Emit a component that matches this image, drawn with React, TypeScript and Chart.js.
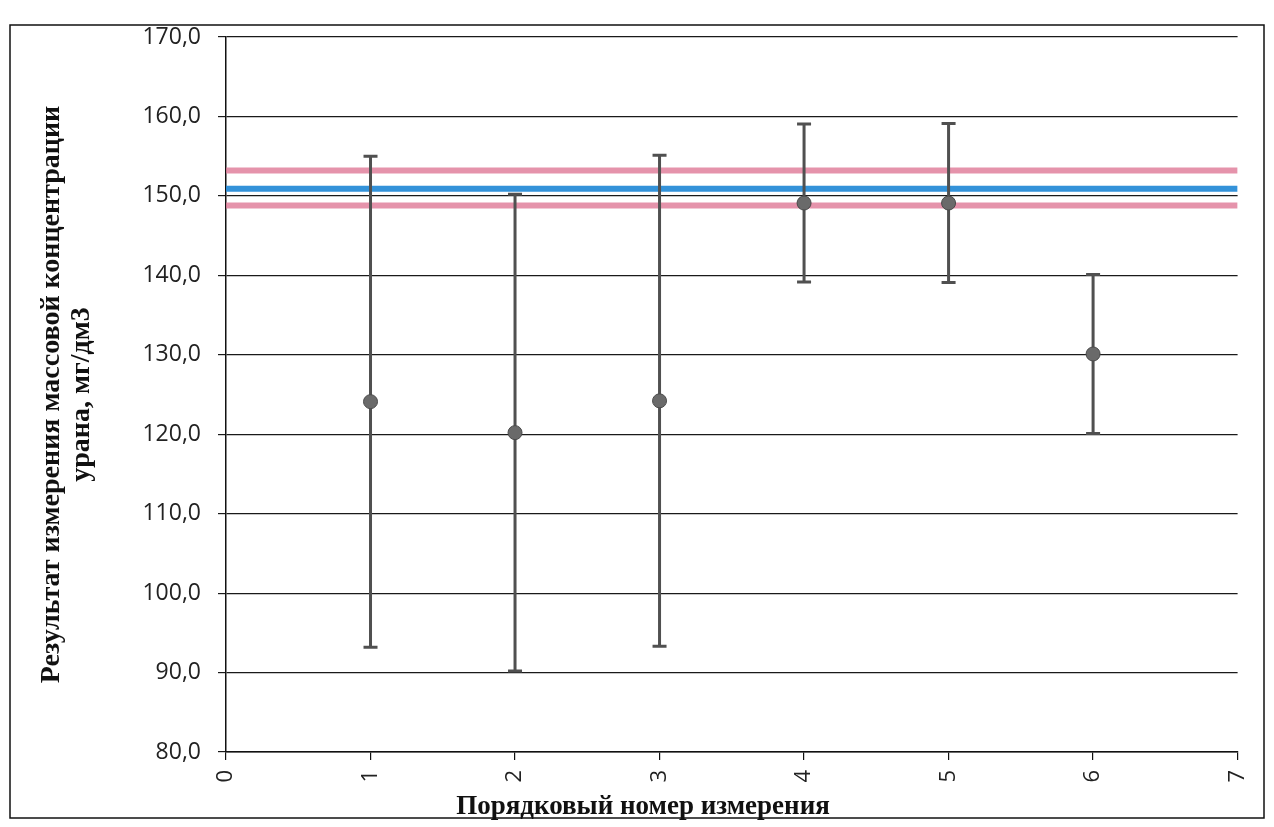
import React, { useEffect, useRef } from "react";
import { Chart, registerables } from "chart.js";

Chart.register(...registerables);

const measurementNumbers = [1, 2, 3, 4, 5, 6];
const measuredValues = [124.1, 120.2, 124.2, 149.1, 149.1, 130.1];
const errorHalfWidths = [30.9, 30.0, 30.9, 9.95, 10.0, 10.0];
const referenceValue = 150.9;
const referenceUpper = 153.2;
const referenceLower = 148.8;
const xRange = [0, 7];
const yTicksRange = [80, 170];
const yTitleLines = ["Результат измерения массовой концентрации", "урана, мг/дм3"];
const xTitle = "Порядковый номер измерения";

const W = 1274;
const H = 827;

export default function App() {
  const ref = useRef<HTMLCanvasElement | null>(null);

  useEffect(() => {
    const canvas = ref.current;
    if (!canvas) return;

    const errorBars = {
      id: "errorBars",
      beforeDatasetDraw(chart: any, args: any) {
        if (args.index !== 0) return;
        const { ctx } = chart;
        const xs = chart.scales.x;
        const ys = chart.scales.y;
        ctx.save();
        ctx.strokeStyle = "#505050";
        ctx.lineWidth = 3;
        measurementNumbers.forEach((n, i) => {
          const px = xs.getPixelForValue(n);
          const top = ys.getPixelForValue(measuredValues[i] + errorHalfWidths[i]);
          const bot = ys.getPixelForValue(measuredValues[i] - errorHalfWidths[i]);
          ctx.beginPath();
          ctx.moveTo(px, top);
          ctx.lineTo(px, bot);
          ctx.moveTo(px - 7, top);
          ctx.lineTo(px + 7, top);
          ctx.moveTo(px - 7, bot);
          ctx.lineTo(px + 7, bot);
          ctx.stroke();
        });
        ctx.restore();
      },
    };

    const frameAndTitle = {
      id: "frameAndTitle",
      beforeDraw(chart: any) {
        const { ctx } = chart;
        ctx.save();
        ctx.fillStyle = "#ffffff";
        ctx.fillRect(0, 0, W, H);
        ctx.strokeStyle = "#111";
        ctx.lineWidth = 1.5;
        ctx.strokeRect(10, 25, 1254, 793);
        ctx.restore();
      },
      afterDraw(chart: any) {
        const { ctx } = chart;
        ctx.save();
        ctx.fillStyle = "#111";
        ctx.font = "bold 27px 'Liberation Serif'";
        ctx.textAlign = "center";
        ctx.textBaseline = "middle";
        ctx.fillText(xTitle, 643, 807);
        ctx.restore();
      },
    };

    const lineDs = (v: number, color: string, w: number) => ({
      data: [
        { x: xRange[0], y: v },
        { x: xRange[1], y: v },
      ],
      borderColor: color,
      borderWidth: w,
      pointRadius: 0,
      showLine: true,
      fill: false,
    });

    const chart = new Chart(canvas, {
      type: "line",
      data: {
        datasets: [
          {
            data: measurementNumbers.map((n, i) => ({ x: n, y: measuredValues[i] })),
            showLine: false,
            pointRadius: 7,
            pointBackgroundColor: "#6a6a6a",
            pointBorderColor: "#4a4a4a",
            pointBorderWidth: 1,
          } as any,
          lineDs(referenceValue, "rgba(40,140,215,0.95)", 6),
          lineDs(referenceUpper, "rgba(222,120,150,0.8)", 6),
          lineDs(referenceLower, "rgba(222,120,150,0.8)", 6),
        ],
      },
      options: {
        responsive: false,
        animation: false,
        layout: { padding: { left: 0, top: 37, right: 27, bottom: 0 } },
        plugins: {
          legend: { display: false },
          tooltip: { enabled: false },
        },
        scales: {
          x: {
            type: "linear",
            min: xRange[0],
            max: xRange[1],
            afterFit: (s: any) => {
              s.height = 75;
            },
            ticks: {
              stepSize: 1,
              minRotation: 90,
              maxRotation: 90,
              padding: 10,
              color: "#222",
              font: { family: "'Open Sans'", size: 22 },
            },
            grid: {
              drawOnChartArea: false,
              drawTicks: true,
              tickLength: 8,
              color: "#111",
              lineWidth: 1.2,
            },
            border: { display: true, color: "#111", width: 1.5 },
          },
          y: {
            min: yTicksRange[0],
            max: yTicksRange[1],
            afterFit: (s: any) => {
              s.width = 226;
            },
            ticks: {
              stepSize: 10,
              padding: 17,
              color: "#222",
              font: { family: "'Open Sans'", size: 23 },
              callback: (v: any) => Number(v).toFixed(1).replace(".", ","),
            },
            grid: {
              color: "#1a1a1a",
              lineWidth: 1.2,
              tickLength: 8,
            },
            border: { display: true, color: "#111", width: 1.5 },
            title: {
              display: true,
              text: yTitleLines,
              color: "#111",
              font: { family: "'Liberation Serif'", size: 28, weight: "bold", lineHeight: 1.07 },
              padding: { top: 37, bottom: 0 },
            },
          },
        },
      },
      plugins: [errorBars, frameAndTitle],
    } as any);

    return () => chart.destroy();
  }, []);

  return (
    <div style={{ position: "fixed", left: 0, top: 0, width: W, height: H, background: "#fff" }}>
      <canvas ref={ref} width={W} height={H} style={{ width: W, height: H, display: "block" }} />
    </div>
  );
}
